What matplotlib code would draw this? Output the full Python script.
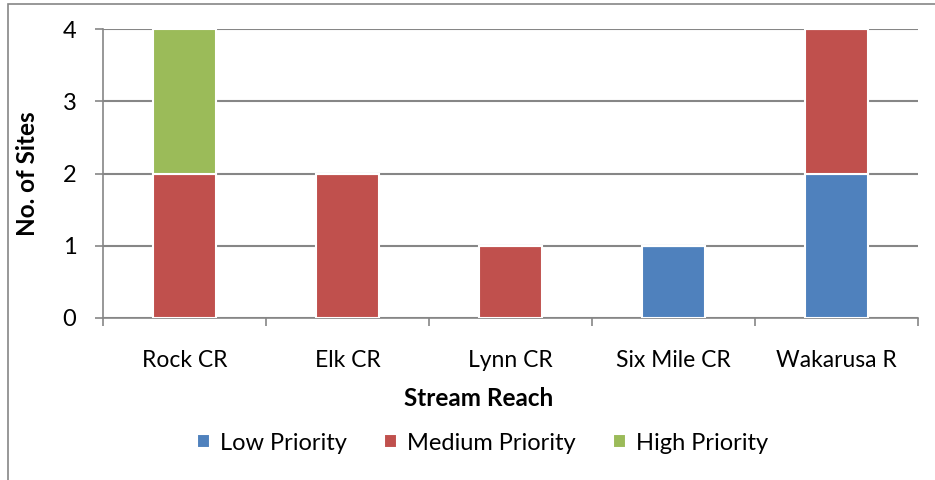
import numpy as np
import matplotlib.pyplot as plt
from matplotlib.patches import Rectangle

reaches = ['Rock CR', 'Elk CR', 'Lynn CR', 'Six Mile CR', 'Wakarusa R']
low = [0, 0, 0, 1, 2]
medium = [2, 2, 1, 0, 2]
high = [2, 0, 0, 0, 0]

plt.rcParams['font.family'] = ['Lato', 'DejaVu Sans']

fig = plt.figure(figsize=(9.35, 4.8), dpi=100)
ax = fig.add_axes([0.110, 0.3375, 0.872, 0.602])

x = np.arange(len(reaches))
w = 0.39
low = np.array(low); medium = np.array(medium); high = np.array(high)
ax.bar(x, low, w, color='#4F81BD', edgecolor='white', linewidth=1.5, label='Low Priority', zorder=3)
ax.bar(x, medium, w, bottom=low, color='#C0504D', edgecolor='white', linewidth=1.5, label='Medium Priority', zorder=3)
ax.bar(x, high, w, bottom=low + medium, color='#9BBB59', edgecolor='white', linewidth=1.5, label='High Priority', zorder=3)

ax.set_xlim(-0.5, 4.5)
ax.set_ylim(0, 4)
ax.set_yticks([0, 1, 2, 3, 4])
ax.yaxis.grid(True, color='#868686', linewidth=1.5, zorder=0)
ax.set_axisbelow(True)
for s in ['top', 'right']:
    ax.spines[s].set_visible(False)
for s in ['left', 'bottom']:
    ax.spines[s].set_color('#868686')
    ax.spines[s].set_linewidth(1.2)

ax.set_xticks(x)
ax.set_xticklabels(reaches)
ax.set_xticks(np.arange(-0.5, 5, 1), minor=True)
ax.tick_params(axis='x', which='major', length=0, pad=23, labelsize=16.5)
ax.tick_params(axis='x', which='minor', length=6, color='#868686', width=1.2)
ax.tick_params(axis='y', length=6, color='#868686', width=1.2, labelsize=17, pad=13)

ax.set_xlabel('Stream Reach', fontsize=17.5, fontweight='bold')
ax.xaxis.label.set_va('center')
ax.xaxis.set_label_coords(0.461, -0.28)
ax.set_ylabel('No. of Sites', fontsize=17.5, fontweight='bold')
ax.yaxis.label.set_va('center')
ax.yaxis.set_label_coords(-0.092, 0.5)

fig.legend(loc='center', bbox_to_anchor=(0.516, 0.077), ncol=3, frameon=False,
           fontsize=17, handlelength=0.55, handleheight=0.55, handletextpad=0.4,
           columnspacing=1.6)

fig.patches.append(Rectangle((8 / 935, -0.02), 1.0, 1.012, transform=fig.transFigure,
                             fill=False, edgecolor='#868686', linewidth=1.2))

plt.savefig('out.png', dpi=100)
